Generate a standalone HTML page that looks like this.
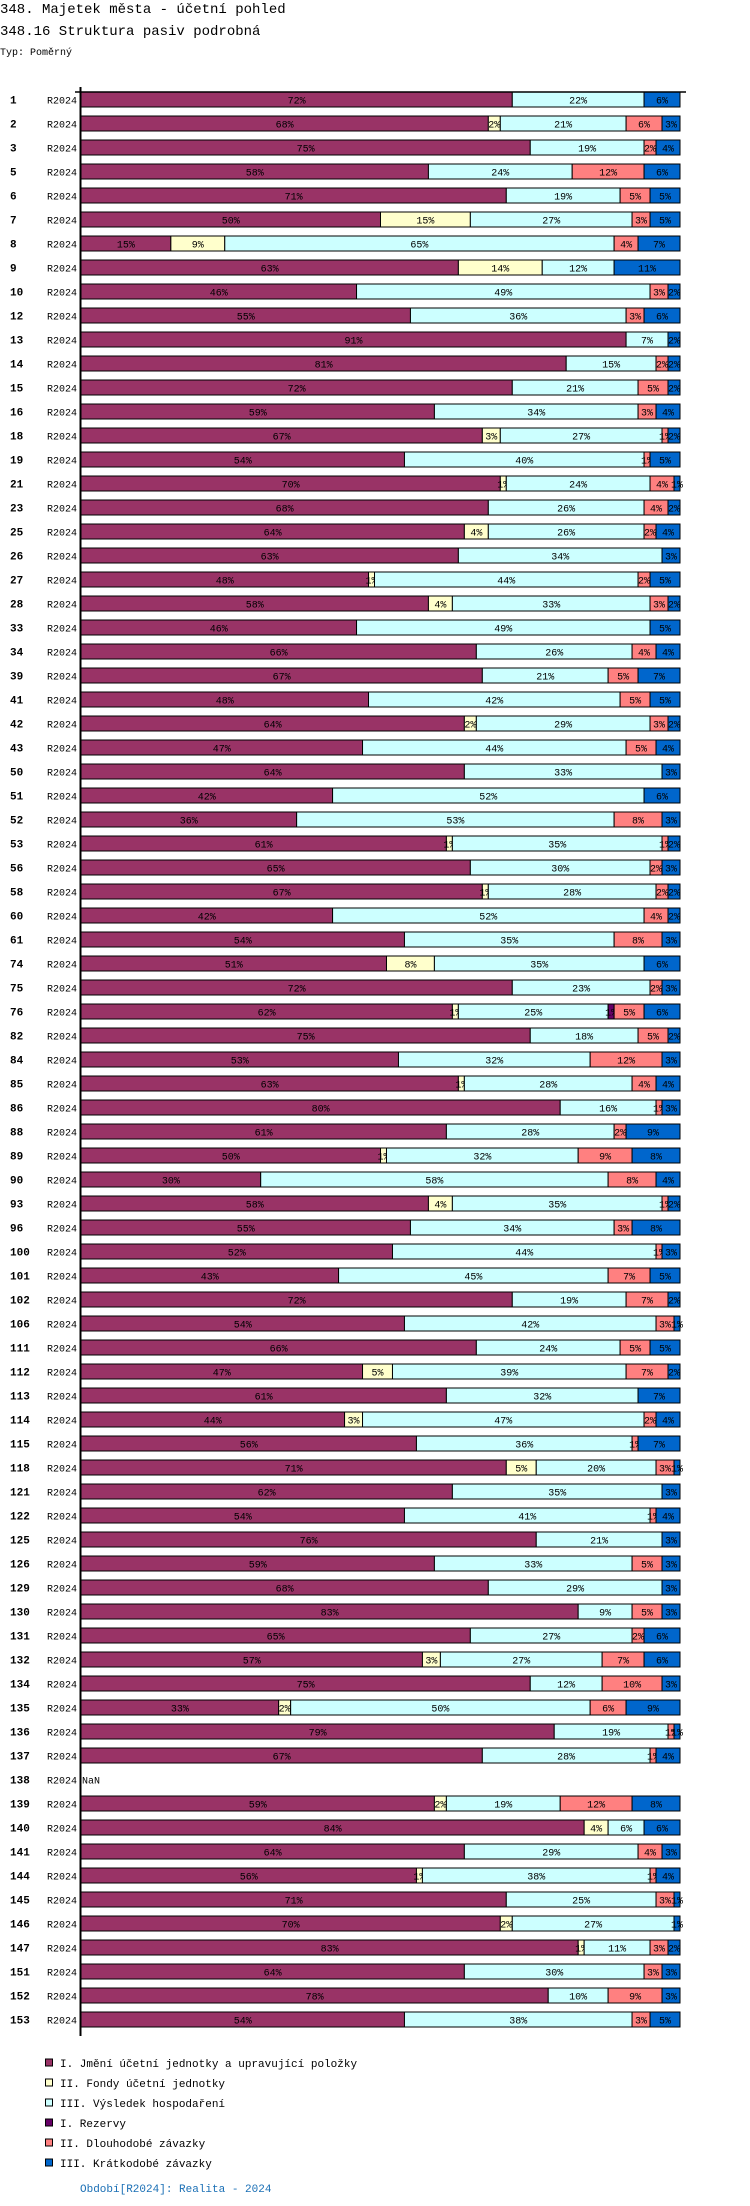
<!DOCTYPE html>
<html><head><meta charset="utf-8">
<style>
html,body{margin:0;padding:0;background:#fff;}
svg{display:block;font-family:"Liberation Mono",monospace;}
</style></head>
<body>
<svg id="chart" width="750" height="2206" viewBox="0 0 750 2206" xmlns="http://www.w3.org/2000/svg">
<text x="0" y="13" font-size="14" fill="#000">348. Majetek města - účetní pohled</text>
<text x="0" y="35" font-size="14" fill="#000">348.16 Struktura pasiv podrobná</text>
<text x="0" y="55" font-size="10" fill="#000">Typ: Poměrný</text>
<g id="bars"></g>
<line x1="75" y1="92" x2="686" y2="92" stroke="#000" stroke-width="1.5"/>
<line x1="80.5" y1="87" x2="80.5" y2="2036" stroke="#000" stroke-width="2"/>
<g id="legend"></g>
<text x="80" y="2192" font-size="11" fill="#1a6fb5">Období[R2024]: Realita - 2024</text>
</svg>
<script>
const categories = ["1","2","3","5","6","7","8","9","10","12","13","14","15","16","18","19","21","23","25","26","27","28","33","34","39","41","42","43","50","51","52","53","56","58","60","61","74","75","76","82","84","85","86","88","89","90","93","96","100","101","102","106","111","112","113","114","115","118","121","122","125","126","129","130","131","132","134","135","136","137","138","139","140","141","144","145","146","147","151","152","153"];
const seriesNames = ["I. Jmění účetní jednotky a upravující položky","II. Fondy účetní jednotky","III. Výsledek hospodaření","I. Rezervy","II. Dlouhodobé závazky","III. Krátkodobé závazky"];
const jmeni = [72,68,75,58,71,50,15,63,46,55,91,81,72,59,67,54,70,68,64,63,48,58,46,66,67,48,64,47,64,42,36,61,65,67,42,54,51,72,62,75,53,63,80,61,50,30,58,55,52,43,72,54,66,47,61,44,56,71,62,54,76,59,68,83,65,57,75,33,79,67,null,59,84,64,56,71,70,83,64,78,54];
const fondy = [0,2,0,0,0,15,9,14,0,0,0,0,0,0,3,0,1,0,4,0,1,4,0,0,0,0,2,0,0,0,0,1,0,1,0,0,8,0,1,0,0,1,0,0,1,0,4,0,0,0,0,0,0,5,0,3,0,5,0,0,0,0,0,0,0,3,0,2,0,0,null,2,4,0,1,0,2,1,0,0,0];
const vysledek = [22,21,19,24,19,27,65,12,49,36,7,15,21,34,27,40,24,26,26,34,44,33,49,26,21,42,29,44,33,52,53,35,30,28,52,35,35,23,25,18,32,28,16,28,32,58,35,34,44,45,19,42,24,39,32,47,36,20,35,41,21,33,29,9,27,27,12,50,19,28,null,19,6,29,38,25,27,11,30,10,38];
const rezervy = [0,0,0,0,0,0,0,0,0,0,0,0,0,0,0,0,0,0,0,0,0,0,0,0,0,0,0,0,0,0,0,0,0,0,0,0,0,0,1,0,0,0,0,0,0,0,0,0,0,0,0,0,0,0,0,0,0,0,0,0,0,0,0,0,0,0,0,0,0,0,null,0,0,0,0,0,0,0,0,0,0];
const dlouhodobe = [0,6,2,12,5,3,4,0,3,3,0,2,5,3,1,1,4,4,2,0,2,3,0,4,5,5,3,5,0,0,8,1,2,2,4,8,0,2,5,5,12,4,1,2,9,8,1,3,1,7,7,3,5,7,0,2,1,3,0,1,0,5,0,5,2,7,10,6,1,1,null,12,0,4,1,3,0,3,3,9,3];
const kratkodobe = [6,3,4,6,5,5,7,11,2,6,2,2,2,4,2,5,1,2,4,3,5,2,5,4,7,5,2,4,3,6,3,2,3,2,2,3,6,3,6,2,3,4,3,9,8,4,2,8,3,5,2,1,5,2,7,4,7,1,3,4,3,3,3,3,6,6,3,9,1,4,null,8,6,3,4,1,1,2,3,3,5];
const seriesValues = [jmeni, fondy, vysledek, rezervy, dlouhodobe, kratkodobe];
const colors = ["#993366","#FFFFCC","#CCFFFF","#660066","#FF8080","#0066CC"];

const NS = "http://www.w3.org/2000/svg";
const x0 = 81, plotW = 599, rowTop = 92, pitch = 24, barH = 15;
function xScale(v){ return v / 100 * plotW; }
function yRow(i){ return rowTop + i * pitch; }
function mk(tag, attrs){ const e = document.createElementNS(NS, tag); for (const k in attrs) e.setAttribute(k, attrs[k]); return e; }

const bars = document.getElementById("bars");
categories.forEach((cat, i) => {
  const y = yRow(i);
  const num = mk("text", {x: 10, y: y + 11.5, "font-size": 11, "font-weight": "bold"});
  num.textContent = cat;
  
  
  bars.appendChild(num);
  const per = mk("text", {x: 77, y: y + 11.5, "font-size": 10, "text-anchor": "end"});
  per.textContent = "R2024";
  
  
  bars.appendChild(per);
  if (jmeni[i] === null) {
    const nan = mk("text", {x: 82, y: y + 11.5, "font-size": 10});
    nan.textContent = "NaN";
    
    
    bars.appendChild(nan);
    return;
  }
  let total = 0;
  seriesValues.forEach(s => total += s[i]);
  let acc = 0;
  seriesValues.forEach((s, k) => {
    const v = s[i];
    if (!v) return;
    const xa = x0 + xScale(acc / total * 100);
    const w = xScale(v / total * 100);
    acc += v;
    const r = mk("rect", {x: xa, y: y, width: w, height: barH, fill: colors[k], stroke: "#000", "stroke-width": 1});
    
    
    bars.appendChild(r);
    const t = mk("text", {x: xa + w / 2, y: y + 11.5, "font-size": 10, "text-anchor": "middle", fill: "#000"});
    t.textContent = v + "%";
    
    
    bars.appendChild(t);
  });
});

const legend = document.getElementById("legend");
seriesNames.forEach((n, k) => {
  const y = 2059 + k * 20;
  const sq = mk("rect", {x: 45.5, y: y, width: 7, height: 7, fill: colors[k], stroke: "#000", "stroke-width": 1});
  
  
  legend.appendChild(sq);
  const t = mk("text", {x: 60, y: y + 8, "font-size": 11});
  t.textContent = n;
  
  
  legend.appendChild(t);
});
</script>
</body></html>
